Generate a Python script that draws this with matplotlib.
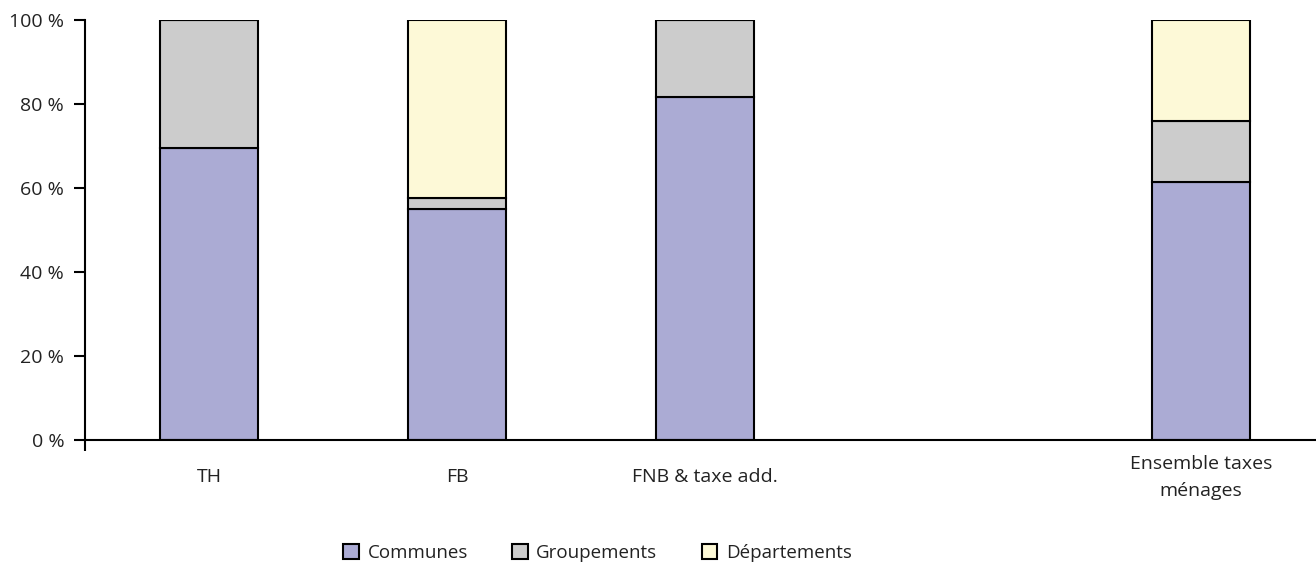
import matplotlib.pyplot as plt

plt.rcParams["font.family"] = ["Open Sans", "DejaVu Sans"]

categories = ["TH", "FB", "FNB & taxe add.", "", "Ensemble taxes\nménages"]
communes = [69.5, 54.9, 81.7, 0, 61.5]
groupements = [30.5, 2.8, 18.3, 0, 14.5]
departements = [0, 42.3, 0, 0, 24.0]
has_bar = [True, True, True, False, True]

series = ["Communes", "Groupements", "Départements"]
colors = ["#ababd4", "#cccccc", "#fdf9d7"]

fig = plt.figure(figsize=(13.16, 5.68), dpi=100)
ax = fig.add_axes([85 / 1316, 1 - 440 / 568, 1 - 85 / 1316, 420 / 568])

xs = [i + 0.5 for i in range(len(categories))]
bx = [x for x, h in zip(xs, has_bar) if h]
bottom = [0.0] * len(bx)
for name, vals, col in zip(series, [communes, groupements, departements], colors):
    v = [val for val, h in zip(vals, has_bar) if h]
    ax.bar(bx, v, width=0.395, bottom=bottom, color=col, edgecolor="black",
           linewidth=1.5, label=name, zorder=2)
    bottom = [b + val for b, val in zip(bottom, v)]

ax.set_xlim(0, 4.964)
ax.set_ylim(0, 100)
ax.set_yticks(range(0, 101, 20))
ax.set_yticklabels([f"{t} %" for t in range(0, 101, 20)])
ax.set_xticks(xs)
ax.set_xticklabels(categories, linespacing=1.62, va="center")
ax.tick_params(axis="x", length=0, pad=27, labelsize=14, labelcolor="#222222")
ax.tick_params(axis="y", length=8, width=1.5, pad=7, labelsize=14,
               labelcolor="#222222")
# single downward tick at the origin of the category axis
ax.plot([0, 0], [0, -2.5], color="black", lw=1.5, clip_on=False,
        solid_capstyle="butt")

for side in ["top", "right"]:
    ax.spines[side].set_visible(False)
for side in ["left", "bottom"]:
    ax.spines[side].set_linewidth(1.5)

fig.legend(loc="center", bbox_to_anchor=(0.454, 1 - 553 / 568), ncol=3,
           frameon=False, fontsize=13.5, handlelength=0.85, handleheight=0.85,
           handletextpad=0.45, columnspacing=2.35, labelcolor="#222222")

fig.savefig("out.png", dpi=100)
